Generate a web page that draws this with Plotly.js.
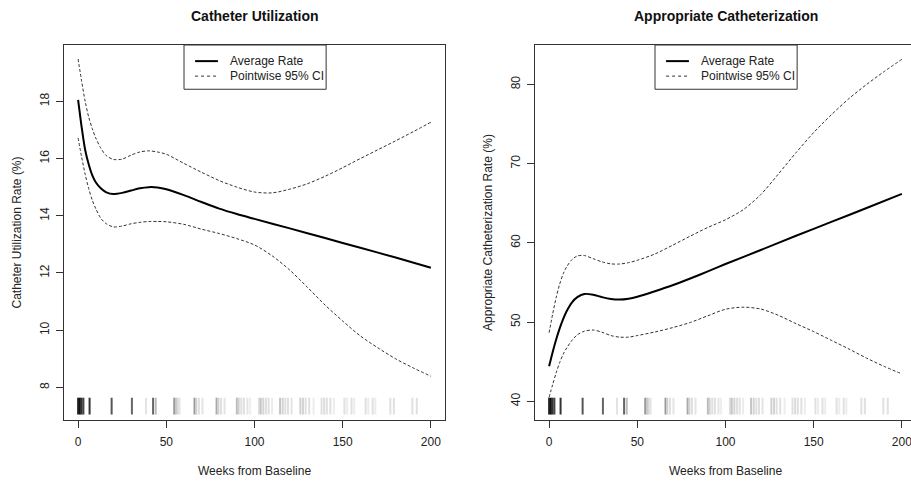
<!DOCTYPE html>
<html><head><meta charset="utf-8">
<script src="https://cdn.plot.ly/plotly-3.0.1.min.js"></script>
<style>html,body{margin:0;padding:0;overflow:hidden;background:#fff}#chart{width:920px;height:483px}</style>
</head><body><div id="chart"></div>
<script>
const weeks = [0,2,4,6,8,10,13,16,20,25,30,35,40,45,50,60,70,80,90,100,120,140,160,180,200];
const weeksFine = [0,2,4,6,8,10,13,16,20,25,30,35,40,45,50,60,70,80,90,100,110,120,130,140,150,160,170,180,190,200];

// ---- Catheter Utilization (left panel) ----
const utilMean = [18.05,17.1,16.3,15.8,15.42,15.17,14.95,14.82,14.76,14.8,14.88,14.96,15.0,14.99,14.93,14.72,14.48,14.25,14.06,13.89,13.56,13.22,12.88,12.54,12.18];
const utilUpper = [19.48,18.7,18.0,17.45,17.05,16.72,16.35,16.1,15.97,15.98,16.12,16.23,16.27,16.23,16.15,15.83,15.52,15.23,15.0,14.83,14.8,14.93,15.12,15.38,15.68,16.0,16.31,16.62,16.94,17.27];
const utilLower = [16.72,16.05,15.45,14.95,14.55,14.25,13.9,13.72,13.61,13.64,13.72,13.77,13.8,13.8,13.79,13.7,13.53,13.38,13.2,12.98,12.6,12.1,11.5,10.88,10.32,9.8,9.38,9.0,8.68,8.39];

// ---- Appropriate Catheterization (right panel) ----
const apprMean = [44.42,46.2,47.8,49.2,50.4,51.4,52.5,53.15,53.55,53.45,53.15,52.92,52.84,52.95,53.2,53.9,54.65,55.5,56.4,57.33,59.1,60.9,62.65,64.4,66.18];
const apprUpper = [48.66,51.0,53.1,54.8,56.1,57.0,57.9,58.35,58.4,58.0,57.6,57.35,57.33,57.5,57.8,58.6,59.7,60.85,61.95,62.92,64.18,66.1,68.7,71.39,73.93,76.17,78.22,80.0,81.64,83.17];
const apprLower = [40.5,42.1,43.6,44.9,45.95,46.75,47.7,48.4,48.85,49.0,48.72,48.3,48.1,48.1,48.3,48.75,49.3,49.95,50.8,51.62,51.88,51.65,50.85,49.8,48.8,47.7,46.6,45.45,44.4,43.46];

// ---- Rug of observation weeks (shade = density) ----
const rugWeeks = [0,1,2,3,6.5,19,30.5,38.5,42.5,44,54.5,55.5,56.5,57.5,66,67,68.5,70.5,78.5,79.5,81,83,
  90,91,92.5,94,96,97.5,102.5,103.5,105,106.5,108,110,114.5,116,117.5,119,121,126,127.5,129,131,133.5,
  138,139.5,141,143,145,151,152.5,155,156.5,163,164.5,167,168.5,177,179,189.5,192];
const rugShade = ['#222','#111','#333','#444','#333','#555','#666','#e4e4e4','#666','#bbb','#999','#c8c8c8','#d8d8d8','#e4e4e4',
  '#999','#d0d0d0','#e0e0e0','#e4e4e4','#aaa','#d0d0d0','#e0e0e0','#e4e4e4',
  '#bbb','#d0d0d0','#e0e0e0','#e0e0e0','#e4e4e4','#eee','#e0e0e0','#c4c4c4','#d4d4d4','#e0e0e0','#e0e0e0','#ececec','#c4c4c4','#d4d4d4','#e0e0e0','#e0e0e0','#e4e4e4',
  '#d0d0d0','#d4d4d4','#e0e0e0','#e0e0e0','#ececec','#e0e0e0','#dcdcdc','#e0e0e0','#e0e0e0','#ececec','#e0e0e0','#ececec','#e0e0e0','#ececec',
  '#e0e0e0','#ececec','#e0e0e0','#ececec','#e0e0e0','#e0e0e0','#e0e0e0','#e0e0e0'];

const xTicks = [0,50,100,150,200];
const yTicks1 = [8,10,12,14,16,18];
const yTicks2 = [40,50,60,70,80];
const titles = ['Catheter Utilization','Appropriate Catheterization'];
const yTitles = ['Catheter Utilization Rate (%)','Appropriate Catheterization Rate (%)'];
const legendLabels = ['Average Rate','Pointwise 95% CI'];

const xRange = [-8,208];
const yRange1 = [6.86,19.97];
const yRange2 = [37.64,84.98];

const FONT = 'Liberation Sans, Arial, Helvetica, sans-serif';
const TXT = '#222';

function rugY(r){ return rugWeeks.map(()=> r[0] + 0.037*(r[1]-r[0])); }

function lineTrace(x,y,xa,ya,mean){
  return {x:x,y:y,xaxis:xa,yaxis:ya,type:'scatter',mode:'lines',hoverinfo:'skip',showlegend:false,
    line: mean ? {color:'#000',width:2,shape:'spline',smoothing:0.8} :
                 {color:'#333',width:1,dash:'3px,2px',shape:'spline',smoothing:0.8}};
}
function rugTrace(xa,ya,r){
  return {x:rugWeeks,y:rugY(r),xaxis:xa,yaxis:ya,type:'scatter',mode:'markers',hoverinfo:'skip',showlegend:false,
    marker:{symbol:'line-ns-open',size:12,color:rugShade,line:{width:2}}};
}

const data = [
  rugTrace('x','y',yRange1),
  lineTrace(weeksFine,utilUpper,'x','y',false),
  lineTrace(weeksFine,utilLower,'x','y',false),
  lineTrace(weeks,utilMean,'x','y',true),
  rugTrace('x2','y2',yRange2),
  lineTrace(weeksFine,apprUpper,'x2','y2',false),
  lineTrace(weeksFine,apprLower,'x2','y2',false),
  lineTrace(weeks,apprMean,'x2','y2',true)
];

function xAxis(domain, anchor){
  return {domain:domain, anchor:anchor, range:xRange, tickvals:xTicks, ticks:'outside', ticklen:7, tickcolor:'#333',
    showline:true, linecolor:'#333', linewidth:1, mirror:true, showgrid:false, zeroline:false,
    tickfont:{family:FONT,size:12,color:TXT}, ticklabelstandoff:4,
    title:{text:'Weeks from Baseline', font:{family:FONT,size:12,color:TXT}, standoff:18}};
}
function yAxis(range, ticks, anchor, title){
  return {domain:[0,1], anchor:anchor, range:range, tickvals:ticks, ticks:'outside', ticklen:7, tickcolor:'#333',
    tickangle:-90, showline:true, linecolor:'#333', linewidth:1, mirror:true, showgrid:false, zeroline:false,
    tickfont:{family:FONT,size:12,color:TXT}, ticklabelstandoff:2,
    title:{text:title, font:{family:FONT,size:12,color:TXT}, standoff:14}};
}

const shapes = [];
const annotations = [];
[['x','y'],['x2','y2']].forEach(([xa,ya],i)=>{
  const xr = xa + ' domain', yr = ya + ' domain';
  shapes.push({type:'rect',xref:xr,yref:yr,x0:0.315,x1:0.688,y0:0.882,y1:1.0,line:{color:'#333',width:1},fillcolor:'#fff'});
  shapes.push({type:'line',xref:xr,yref:yr,x0:0.344,x1:0.404,y0:0.957,y1:0.957,line:{color:'#000',width:2}});
  shapes.push({type:'line',xref:xr,yref:yr,x0:0.344,x1:0.404,y0:0.917,y1:0.917,line:{color:'#333',width:1,dash:'3px,3px'}});
  annotations.push({xref:xr,yref:yr,x:0.43,y:0.957,xanchor:'left',yanchor:'middle',showarrow:false,text:legendLabels[0],font:{family:FONT,size:12,color:TXT}});
  annotations.push({xref:xr,yref:yr,x:0.43,y:0.917,xanchor:'left',yanchor:'middle',showarrow:false,text:legendLabels[1],font:{family:FONT,size:12,color:TXT}});
  annotations.push({xref:xr,yref:'paper',x:0.5,y:1.0773,xanchor:'center',yanchor:'middle',showarrow:false,text:'<b>'+titles[i]+'</b>',font:{family:FONT,size:14,color:'#111'}});
});

const layout = {
  width:920, height:483, margin:{l:64,r:4,t:45,b:63},
  paper_bgcolor:'#fff', plot_bgcolor:'#fff', showlegend:false,
  xaxis: xAxis([0,381/852],'y'),
  xaxis2: xAxis([471/852,1],'y2'),
  yaxis: yAxis(yRange1,yTicks1,'x',yTitles[0]),
  yaxis2: yAxis(yRange2,yTicks2,'x2',yTitles[1]),
  shapes:shapes, annotations:annotations
};

Plotly.newPlot('chart', data, layout, {staticPlot:true, displayModeBar:false});
</script></body></html>
